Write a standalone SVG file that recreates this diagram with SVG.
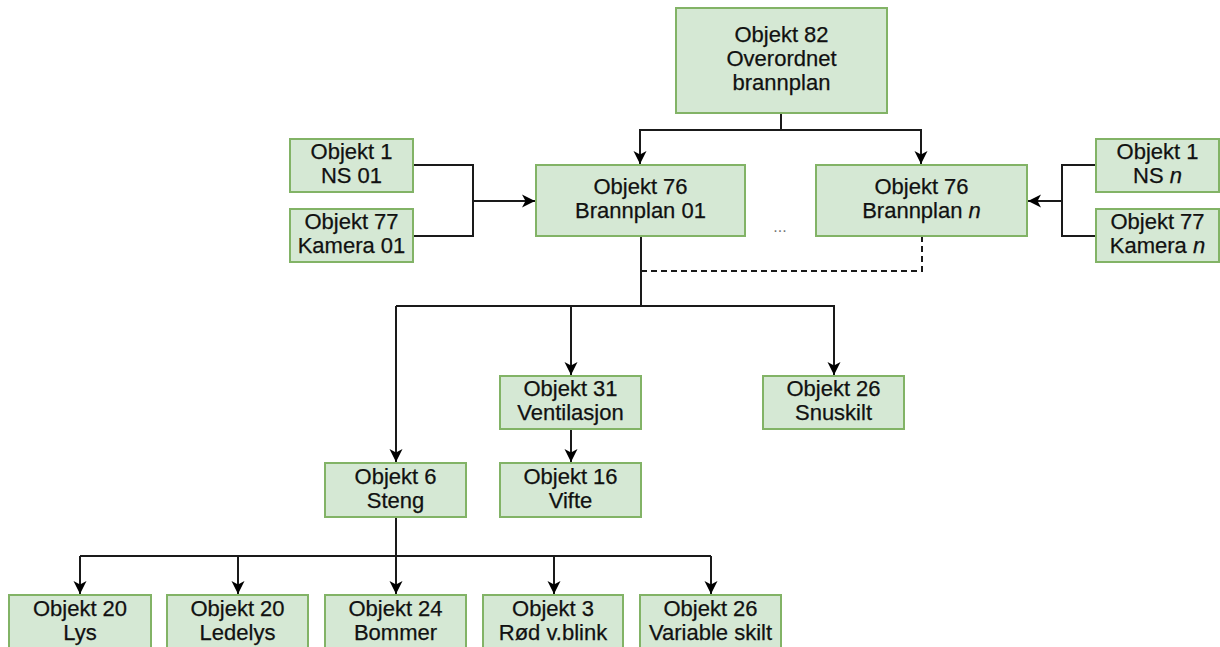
<svg xmlns="http://www.w3.org/2000/svg" width="1220" height="647" viewBox="0 0 1220 647">
<style>
.n rect{fill:#d5e8d4;stroke:#82b366;stroke-width:2}
.n text{font-family:"Liberation Sans",Arial,sans-serif;font-size:22px;fill:#111;stroke:#111;stroke-width:0.25;text-anchor:middle}
.c path{fill:none;stroke:#1a1a1a;stroke-width:2}
.c .a{marker-end:url(#arr)}
.c .d{stroke-dasharray:6 4}
</style>
<defs>
<marker id="arr" markerUnits="userSpaceOnUse" markerWidth="14" markerHeight="14" refX="13" refY="6.5" orient="auto" viewBox="0 0 14 13">
<path d="M0,0 L13,6.5 L0,13 L3.5,6.5 z" fill="#000" stroke="none"/>
</marker>
</defs>
<rect width="1220" height="647" fill="#fff"/>
<g class="c" id="connectors">
<path class="a" d="M781,113 V130 H640 V164"/>
<path class="a" d="M781,130 H921 V164"/>
<path d="M413,165 H473 V236 H413"/>
<path class="a" d="M473,201 H535"/>
<path d="M1096,165 H1062 V236 H1096"/>
<path class="a" d="M1062,201 H1028"/>
<path class="d" d="M922,236 V271 H641"/>
<path d="M641,236 V306 H396"/>
<path class="a" d="M396,306 V462"/>
<path class="a" d="M641,306 H571 V375"/>
<path class="a" d="M641,306 H834 V375"/>
<path class="a" d="M571,429 V462"/>
<path d="M396,517 V556 H80"/>
<path class="a" d="M80,556 V594"/>
<path class="a" d="M238,556 V594"/>
<path class="a" d="M396,556 V594"/>
<path d="M396,556 H711"/>
<path class="a" d="M554,556 V594"/>
<path class="a" d="M711,556 V594"/>
</g>
<g class="n" id="n82"><rect x="676" y="8" width="211" height="105"/><text x="781.5" y="42">Objekt 82</text><text x="781.5" y="66">Overordnet</text><text x="781.5" y="90">brannplan</text></g>
<g class="n" id="ns01"><rect x="290" y="139" width="123" height="53"/><text x="351.5" y="159">Objekt 1</text><text x="351.5" y="183">NS 01</text></g>
<g class="n" id="kam01"><rect x="290" y="209" width="123" height="53"/><text x="351.5" y="229">Objekt 77</text><text x="351.5" y="253">Kamera 01</text></g>
<g class="n" id="bp01"><rect x="536" y="165" width="209" height="71"/><text x="640.5" y="194">Objekt 76</text><text x="640.5" y="218">Brannplan 01</text></g>
<g class="n" id="bpn"><rect x="816" y="165" width="211" height="71"/><text x="921.5" y="194">Objekt 76</text><text x="921.5" y="218">Brannplan <tspan font-style="italic">n</tspan></text></g>
<g class="n" id="nsn"><rect x="1096" y="139" width="123" height="53"/><text x="1157.5" y="159">Objekt 1</text><text x="1157.5" y="183">NS <tspan font-style="italic">n</tspan></text></g>
<g class="n" id="kamn"><rect x="1096" y="209" width="123" height="53"/><text x="1157.5" y="229">Objekt 77</text><text x="1157.5" y="253">Kamera <tspan font-style="italic">n</tspan></text></g>
<g id="dots"><text x="780" y="232" font-family="Liberation Sans,Arial,sans-serif" font-size="16" fill="#777" text-anchor="middle">...</text></g>
<g class="n" id="o31"><rect x="500" y="376" width="141" height="53"/><text x="570.5" y="396">Objekt 31</text><text x="570.5" y="420">Ventilasjon</text></g>
<g class="n" id="o26s"><rect x="763" y="376" width="141" height="53"/><text x="833.5" y="396">Objekt 26</text><text x="833.5" y="420">Snuskilt</text></g>
<g class="n" id="o6"><rect x="325" y="463" width="141" height="54"/><text x="395.5" y="484">Objekt 6</text><text x="395.5" y="508">Steng</text></g>
<g class="n" id="o16"><rect x="500" y="463" width="141" height="54"/><text x="570.5" y="484">Objekt 16</text><text x="570.5" y="508">Vifte</text></g>
<g class="n" id="lys"><rect x="9" y="595" width="142" height="54"/><text x="80" y="616">Objekt 20</text><text x="80" y="640">Lys</text></g>
<g class="n" id="ledelys"><rect x="167" y="595" width="141" height="54"/><text x="237.5" y="616">Objekt 20</text><text x="237.5" y="640">Ledelys</text></g>
<g class="n" id="bommer"><rect x="325" y="595" width="141" height="54"/><text x="395.5" y="616">Objekt 24</text><text x="395.5" y="640">Bommer</text></g>
<g class="n" id="rod"><rect x="483" y="595" width="140" height="54"/><text x="553" y="616">Objekt 3</text><text x="553" y="640">Rød v.blink</text></g>
<g class="n" id="variable"><rect x="640" y="595" width="141" height="54"/><text x="710.5" y="616">Objekt 26</text><text x="710.5" y="640">Variable skilt</text></g>
</svg>
